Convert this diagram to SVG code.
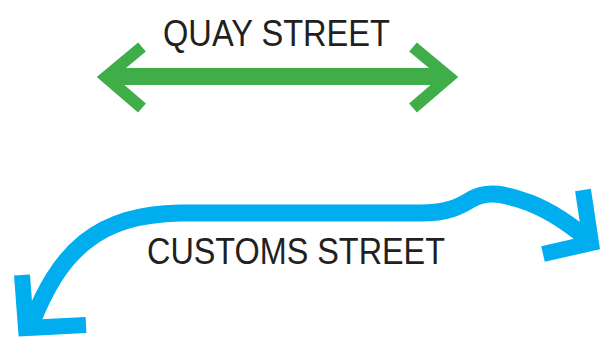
<svg xmlns="http://www.w3.org/2000/svg" width="601" height="343" viewBox="0 0 601 343">
<style>
.lbl{font-family:"Liberation Sans",Arial,sans-serif;font-size:36px;fill:#231f20}
.g{fill:none;stroke:#3fae49;stroke-linecap:butt;stroke-linejoin:miter}
.b{fill:none;stroke:#00aeef;stroke-linecap:butt;stroke-linejoin:miter}
</style>
<rect width="601" height="343" fill="#fff"/>
<g id="connectors">
<g id="quay-arrow">
<line class="g" x1="108" y1="76.5" x2="448" y2="76.5" stroke-width="17"/>
<polyline class="g" points="142,47 106,77 142,108" stroke-width="12"/>
<polyline class="g" points="413,47 449,77 413,108" stroke-width="12"/>
</g>
<g id="customs-arrow">
<path class="b" d="M32,322 C45,290 60,262 85,242 C110,222 140,214 180,213 L420,213 C450,213 462,205 472,199 C488,190 505,194 530,203 C555,213 575,228 592,243" stroke-width="17"/>
<polyline class="b" points="22,275 26,328 86,325" stroke-width="16"/>
<polyline class="b" points="583,190 591,243 543,254" stroke-width="16"/>
</g>
</g>
<g id="quay-street"><text class="lbl" x="163" y="46" textLength="227" lengthAdjust="spacingAndGlyphs">QUAY STREET</text></g>
<g id="customs-street"><text class="lbl" x="147" y="264" textLength="298" lengthAdjust="spacingAndGlyphs">CUSTOMS STREET</text></g>
</svg>
